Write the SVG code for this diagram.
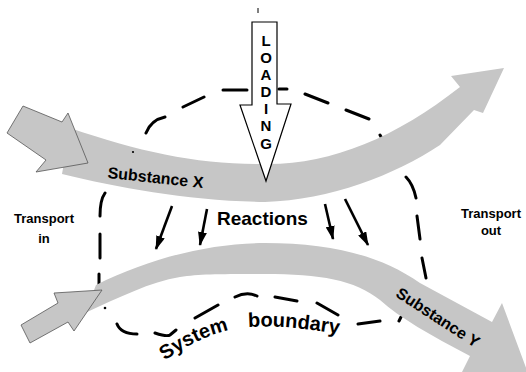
<svg xmlns="http://www.w3.org/2000/svg" width="526" height="372" viewBox="0 0 526 372">
  <style>
    .band { fill: #c6c6c6; stroke: none; }
    .tin { fill: #c6c6c6; stroke: #555; stroke-width: 0.8; stroke-linejoin: round; }
    .dash { fill: none; stroke: #000; stroke-width: 3; stroke-linecap: round; }
    .react { fill: none; stroke: #000; stroke-width: 2.6; }
    .lbl { font-family: "Liberation Sans", Arial, Helvetica, sans-serif; font-weight: bold; fill: #000; }
    .load { font-size: 15px; text-anchor: middle; }
  </style>
  <defs>
    <marker id="ah" viewBox="0 0 14 9" refX="13" refY="4.5" markerWidth="14" markerHeight="9" markerUnits="userSpaceOnUse" orient="auto">
      <path d="M0,0 L14,4.5 L0,9 Z" fill="#000"/>
    </marker>
    <path id="sbpath" d="M160,364 C190,342 220,329 250,327 C285,325 315,330 350,336"/>
  </defs>

  <!-- system boundary (dashed, partly hidden by the bands) -->
  <g id="system-boundary">
    <path class="dash" d="M146,133 Q151,120 165,117 M183,107 L204,97 M223,90 L247,90 M279,89 L287,89 M305,94 L328,103 M346,110 L369,119 M380,135 L384,142 M406,177 Q413,184 416,198 M417,216 L420,239 M422,258 L426,278 M401,317 L399,321 M380,321 L358,324 M338,315 L317,303 M297,301 L275,297 M257,296 Q247,291 235,297 M218,305 L195,318 M155,333 Q167,337 170,335 L176,330 M117,324 Q121,334 137,334 M99,274 L99,285 M100,234 L100,258 M100,216 Q100,200 105,193"/>
    <circle cx="105" cy="308" r="1.3" fill="#000"/>
  </g>

  <!-- upper band: Substance X -->
  <g id="substance-x-band">
    <path class="band" d="M70,128 C140,152 200,165 265,164 C330,165 395,138 460,87 L451,76 L504,68 L483,113 L474,110 L440,145 C395,175 330,200 265,202 C190,201 120,188 62,174 Z"/>
    <circle cx="133" cy="152" r="1.1" fill="#000"/>
  </g>

  <!-- lower band: Substance Y -->
  <g id="substance-y-band">
    <path class="band" d="M96,285 C150,258 210,243 265,243 C330,243 380,255 420,283 L492,322 L502,303 L532,384 L462,372 L470,356 C430,335 400,318 380,300 C355,280 320,274 265,274 C220,274 200,274 180,277 C150,282 120,297 85,313 Z"/>
  </g>

  <!-- transport in arrows -->
  <g id="transport-in-upper">
    <path class="tin" d="M23,106 L62,122 L68,113 L88,163 L36,172 L46,160 L7,133 Z"/>
  </g>
  <g id="transport-in-lower">
    <path class="tin" d="M21,325 L58,303 L54,293 L102,290 L74,331 L68,322 L30,343 Z"/>
  </g>

  <!-- loading arrow -->
  <g id="loading">
    <path d="M252,22 L277,22 L277,104 L291,104 L266,181 L240,105 L252,105 Z" fill="#fff" stroke="#000" stroke-width="1.2" stroke-linejoin="miter"/>
    <line x1="258" y1="8" x2="258" y2="13" stroke="#000" stroke-width="1"/>
    <text class="lbl load" x="266" y="46">L</text>
    <text class="lbl load" x="266" y="63">O</text>
    <text class="lbl load" x="266" y="80">A</text>
    <text class="lbl load" x="266" y="97">D</text>
    <text class="lbl load" x="266" y="114">I</text>
    <text class="lbl load" x="266" y="131">N</text>
    <text class="lbl load" x="266" y="149">G</text>
  </g>

  <!-- reaction connectors -->
  <g id="connectors">
    <line class="react" x1="172" y1="206" x2="156" y2="249" marker-end="url(#ah)"/>
    <line class="react" x1="207" y1="209" x2="200" y2="245" marker-end="url(#ah)"/>
    <line class="react" x1="325" y1="204" x2="333" y2="239" marker-end="url(#ah)"/>
    <line class="react" x1="345" y1="199" x2="368" y2="245" marker-end="url(#ah)"/>
  </g>

  <!-- labels -->
  <g id="labels">
    <text class="lbl" font-size="16" text-anchor="middle" transform="translate(155,183) rotate(6)">Substance X</text>
    <text class="lbl" font-size="16" text-anchor="middle" transform="translate(435,322) rotate(33)">Substance Y</text>
    <text class="lbl" font-size="19" x="217" y="225">Reactions</text>
    <text class="lbl" font-size="13" text-anchor="middle" x="44" y="223">Transport</text>
    <text class="lbl" font-size="13" text-anchor="middle" x="44" y="243">in</text>
    <text class="lbl" font-size="13" text-anchor="middle" x="491" y="218">Transport</text>
    <text class="lbl" font-size="13" text-anchor="middle" x="491" y="235">out</text>
    <text class="lbl" font-size="20" word-spacing="14"><textPath href="#sbpath" startOffset="6">System boundary</textPath></text>
  </g>
</svg>
